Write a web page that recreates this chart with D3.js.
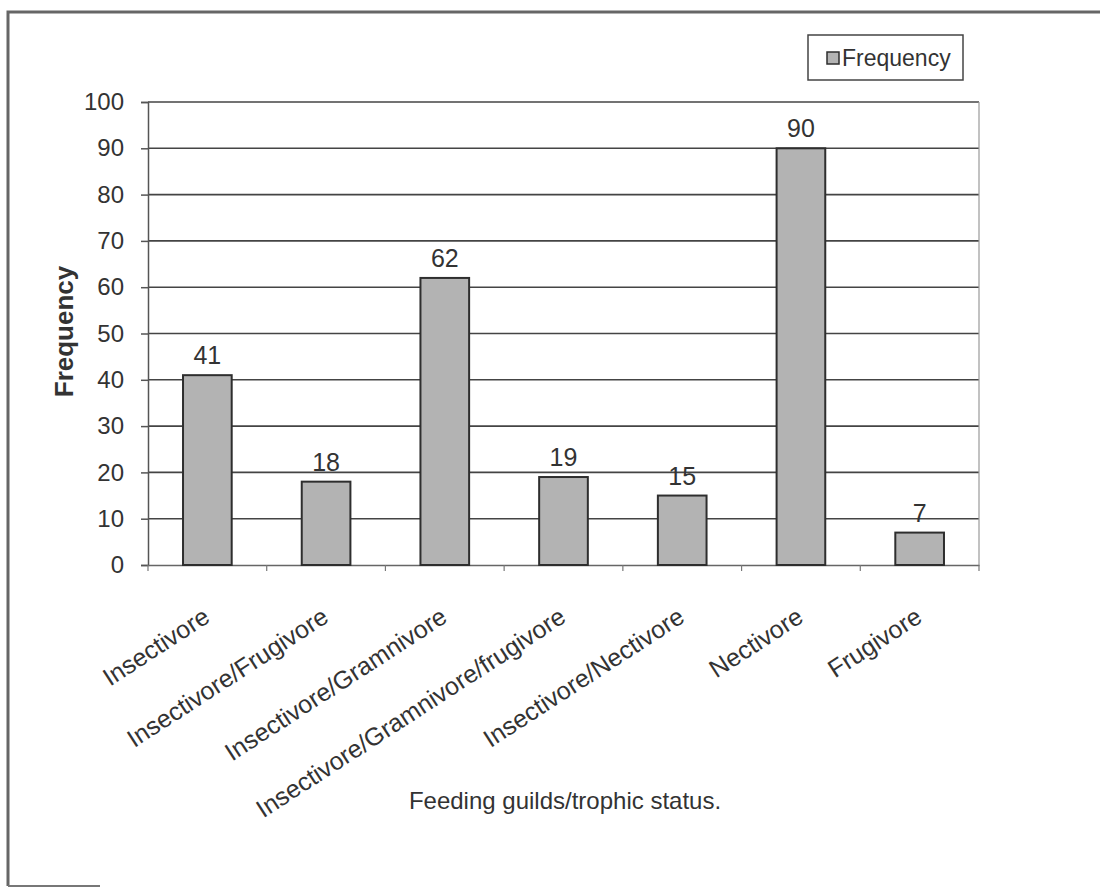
<!DOCTYPE html>
<html lang="en">
<head>
    <meta charset="UTF-8">
    <script src="https://d3js.org/d3.v7.min.js"></script>
    <title>Feeding guilds</title>
    <style>
        body { margin: 0; background-color: white; }
        svg text { font-family: "Liberation Sans", Arial, sans-serif; fill: #333; }
    </style>
</head>
<body>
    <div id="chart"></div>
    <script>
        // data
        const categories = ["Insectivore", "Insectivore/Frugivore", "Insectivore/Gramnivore",
            "Insectivore/Gramnivore/frugivore", "Insectivore/Nectivore", "Nectivore", "Frugivore"];
        const frequency = [41, 18, 62, 19, 15, 90, 7];
        const yTicks = [0, 10, 20, 30, 40, 50, 60, 70, 80, 90, 100];

        const W = 1100, H = 889;
        const margin = { top: 102, right: 121, bottom: 324, left: 148 };
        const width = W - margin.left - margin.right;
        const height = H - margin.top - margin.bottom;

        const svg = d3.select("#chart").append("svg")
            .attr("width", W).attr("height", H);

        // outer frame
        svg.append("path")
            .attr("d", "M8,886 L8,12 L1100,12")
            .attr("fill", "none").attr("stroke", "#666").attr("stroke-width", 3);
        svg.append("line").attr("x1", 8).attr("x2", 100).attr("y1", 886).attr("y2", 886)
            .attr("stroke", "#777").attr("stroke-width", 2);

        const g = svg.append("g")
            .attr("transform", "translate(" + margin.left + "," + margin.top + ")");

        const x = d3.scaleBand().domain(categories).range([0, width]).paddingInner(0.59).paddingOuter(0.295);
        const y = d3.scaleLinear().domain([0, 100]).range([height, 0]);

        // gridlines
        g.append("g")
            .selectAll("line")
            .data(yTicks.slice(1))
            .join("line")
            .attr("x1", 0).attr("x2", width)
            .attr("y1", d => y(d)).attr("y2", d => y(d))
            .attr("stroke", "#444").attr("stroke-width", 1.6);

        // right border of plot
        g.append("line")
            .attr("x1", width).attr("x2", width).attr("y1", 0).attr("y2", height)
            .attr("stroke", "#999").attr("stroke-width", 1.2);

        // y axis
        const yAxis = g.append("g")
            .call(d3.axisLeft(y).tickValues(yTicks).tickSize(7).tickPadding(17));
        yAxis.select(".domain").attr("stroke", "#555").attr("stroke-width", 1.5);
        yAxis.selectAll(".tick line").attr("stroke", "#555").attr("stroke-width", 1.5);
        yAxis.selectAll(".tick text").style("font-size", "24px").attr("fill", "#333");

        // x axis with ticks at category boundaries
        const xAxis = g.append("g")
            .attr("transform", "translate(0," + height + ")")
            .call(d3.axisBottom(x).tickSize(0).tickFormat(""));
        xAxis.select(".domain").attr("stroke", "#666").attr("stroke-width", 1.5);
        const step = x.step();
        g.append("g")
            .selectAll("line")
            .data(d3.range(categories.length + 1))
            .join("line")
            .attr("x1", i => i * step).attr("x2", i => i * step)
            .attr("y1", height).attr("y2", height + 6)
            .attr("stroke", "#777").attr("stroke-width", 1.2);

        // bars
        g.selectAll(".bar")
            .data(frequency)
            .join("rect")
            .attr("class", "bar")
            .attr("x", (d, i) => x(categories[i]))
            .attr("width", x.bandwidth())
            .attr("y", d => y(d))
            .attr("height", d => height - y(d))
            .attr("fill", "#b3b3b3")
            .attr("stroke", "#2e2e2e")
            .attr("stroke-width", 2);

        // value labels
        g.selectAll(".val")
            .data(frequency)
            .join("text")
            .attr("class", "val")
            .attr("x", (d, i) => x(categories[i]) + x.bandwidth() / 2)
            .attr("y", d => y(d) - 11)
            .attr("text-anchor", "middle")
            .style("font-size", "25px")
            .text(d => d);

        // rotated category labels
        g.selectAll(".cat")
            .data(categories)
            .join("text")
            .attr("class", "cat")
            .attr("text-anchor", "end")
            .attr("transform", d => "translate(" + (x(d) + x.bandwidth() / 2 + 4) + "," + (height + 56) + ") rotate(-33)")
            .style("font-size", "25px")
            .text(d => d);

        // axis titles
        svg.append("text")
            .attr("transform", "translate(73," + (margin.top + height / 2 - 2) + ") rotate(-90)")
            .attr("text-anchor", "middle")
            .style("font-size", "26px").style("font-weight", "bold")
            .text("Frequency");

        svg.append("text")
            .attr("x", 565).attr("y", 809)
            .attr("text-anchor", "middle")
            .style("font-size", "24px")
            .text("Feeding guilds/trophic status.");

        // legend
        const legend = svg.append("g").attr("transform", "translate(808,35)");
        legend.append("rect")
            .attr("width", 155).attr("height", 45)
            .attr("fill", "white").attr("stroke", "#444").attr("stroke-width", 1.5);
        legend.append("rect")
            .attr("x", 19).attr("y", 17).attr("width", 12).attr("height", 12)
            .attr("fill", "#b3b3b3").attr("stroke", "#2e2e2e").attr("stroke-width", 1.5);
        legend.append("text")
            .attr("x", 34).attr("y", 31)
            .style("font-size", "23px")
            .text("Frequency");
    </script>
</body>
</html>
